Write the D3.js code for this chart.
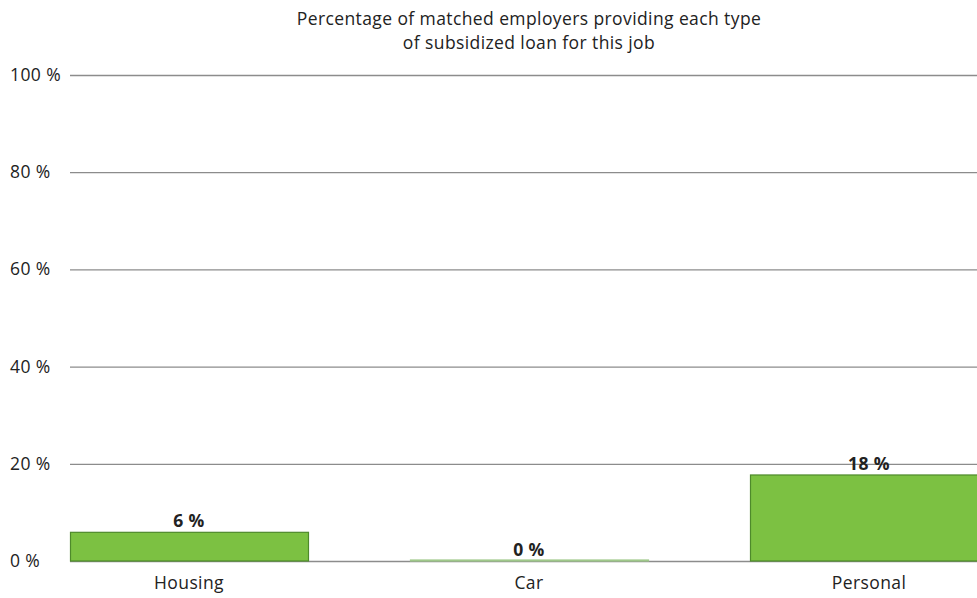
<!DOCTYPE html>
<html>
<head>
<meta charset="utf-8">
<script src="https://cdn.jsdelivr.net/npm/d3@7"></script>
<style>
  body { margin: 0; background: #fff; }
  svg { font-family: "Open Sans", "Noto Sans", sans-serif; }
</style>
</head>
<body>
<div id="chart"></div>
<script>
var categories = ['Housing', 'Car', 'Personal'];
var values = [5.9, 0, 17.7];
var valueLabels = ['6 %', '0 %', '18 %'];
var yTicks = [0, 20, 40, 60, 80, 100];
var titleLines = ['Percentage of matched employers providing each type', 'of subsidized loan for this job'];

var width = 977, height = 598;
var fontSize = '17.5px', spacing = '0.4px';

var svg = d3.select('#chart').append('svg')
  .attr('width', width)
  .attr('height', height);

var x = d3.scaleBand()
  .domain(categories)
  .range([19, 19 + 3 * 340])
  .paddingInner(0.3)
  .paddingOuter(0.15);

var y = d3.scaleLinear()
  .domain([0, 100])
  .range([561, 75]);

// title
svg.append('g').selectAll('text')
  .data(titleLines)
  .enter().append('text')
  .attr('x', 529)
  .attr('y', function(d, i) { return 25 + i * 24; })
  .attr('text-anchor', 'middle')
  .style('font-size', fontSize)
  .style('letter-spacing', spacing)
  .style('fill', '#222')
  .text(function(d) { return d; });

// gridlines
svg.append('g').selectAll('line')
  .data(yTicks)
  .enter().append('line')
  .attr('x1', 70)
  .attr('x2', width)
  .attr('y1', function(d) { return y(d) + 0.5; })
  .attr('y2', function(d) { return y(d) + 0.5; })
  .style('stroke', '#8c8c8c')
  .style('stroke-width', 1.3);

// y labels
svg.append('g').selectAll('text')
  .data(yTicks)
  .enter().append('text')
  .attr('x', 10)
  .attr('y', function(d) { return y(d) + 6; })
  .style('font-size', fontSize)
  .style('letter-spacing', spacing)
  .style('fill', '#222')
  .text(function(d) { return d + ' %'; });

// bars
svg.append('g').selectAll('rect')
  .data(values)
  .enter().append('rect')
  .attr('x', function(d, i) { return x(categories[i]) + 0.5; })
  .attr('width', x.bandwidth())
  .attr('y', function(d) { return y(d) - (d === 0 ? 1 : 0); })
  .attr('height', function(d) { return Math.max(1, y(0) - y(d)); })
  .style('fill', '#7cc142')
  .style('stroke', d => d === 0 ? '#9fc88a' : '#4e8a2b')
  .style('stroke-width', 1.2);

// value labels
svg.append('g').selectAll('text')
  .data(values)
  .enter().append('text')
  .attr('x', function(d, i) { return x(categories[i]) + x.bandwidth() / 2; })
  .attr('y', function(d) { return y(d) - 5; })
  .attr('text-anchor', 'middle')
  .style('font-size', fontSize)
  .style('letter-spacing', spacing)
  .style('font-weight', 'bold')
  .style('fill', '#222')
  .text(function(d, i) { return valueLabels[i]; });

// x labels
svg.append('g').selectAll('text')
  .data(categories)
  .enter().append('text')
  .attr('x', function(d) { return x(d) + x.bandwidth() / 2; })
  .attr('y', 589)
  .attr('text-anchor', 'middle')
  .style('font-size', fontSize)
  .style('letter-spacing', spacing)
  .style('fill', '#222')
  .text(function(d) { return d; });
</script>
</body>
</html>
